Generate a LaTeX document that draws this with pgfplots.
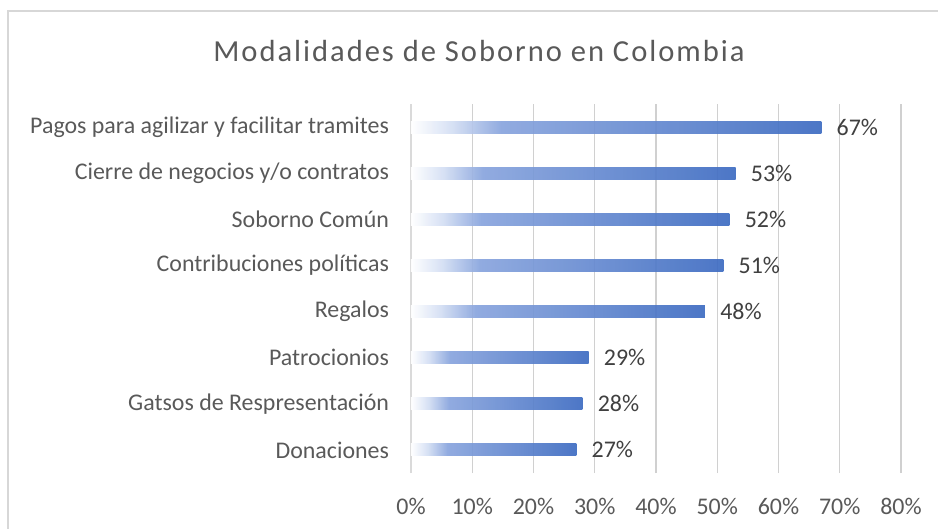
\documentclass[border=0pt]{standalone}
\usepackage{fontspec}
\setmainfont{Carlito}
\newfontfamily\titlefont[LetterSpace=6.5]{Carlito}
\usepackage{pgfplots}
\pgfplotsset{compat=1.18}

\definecolor{barblue}{HTML}{3D6BC1}
\definecolor{shA}{HTML}{D3DEF3}
\definecolor{shB}{HTML}{88A4DD}
\definecolor{gridgray}{HTML}{D0D0D0}
\definecolor{labgray}{HTML}{595959}
\definecolor{valgray}{HTML}{404040}

\pgfdeclarehorizontalshading{barshade}{100bp}{color(0bp)=(white); color(25bp)=(white); color(30bp)=(shA); color(36bp)=(shB); color(75bp)=(barblue); color(100bp)=(barblue)}

\pgfplotsset{onebar/.style={xbar, bar shift=0pt, bar width=9bp, draw=none, shading=barshade, fill opacity=0.92, text opacity=1}}

\begin{document}
\begin{tikzpicture}
% picture frame, in px*0.75bp, axis origin at (0,0)
\useasboundingbox (-308.25bp,-42bp) rectangle (395.25bp,354.75bp);
\draw[gridgray!85, line width=1.1bp] (-302.25bp,-60bp) -- (-302.25bp,346.5bp) -- (400bp,346.5bp);
\node[labgray, font=\titlefont\fontsize{23}{26}\selectfont] at (51bp,316.5bp) {Modalidades de Soborno en Colombia};

\begin{axis}[
  at={(0,0)}, anchor=south west,
  scale only axis,
  width=367.5bp, height=276.75bp,
  xmin=0, xmax=80,
  ymin=-0.5, ymax=7.5,
  xtick={0,10,...,80},
  xticklabel={\pgfmathprintnumber{\tick}\%},
  ytick={0,...,7},
  yticklabels={Donaciones, Gatsos de Respresentación, Patrocionios, Regalos, Contribuciones políticas, Soborno Común, Cierre de negocios y/o contratos, Pagos para agilizar y facilitar tramites},
  axis line style={draw=none},
  tick style={draw=none},
  xmajorgrids,
  grid style={gridgray, line width=0.9bp},
  extra x ticks={0},
  extra x tick labels={},
  extra x tick style={grid style={gridgray!80, line width=1.8bp}},
  ticklabel style={font=\fontsize{18}{21}\selectfont, text=labgray},
  /pgf/number format/assume math mode=true,
  xticklabel style={yshift=-15bp},
  yticklabel style={xshift=-13bp},
  point meta=x,
  nodes near coords={\pgfmathprintnumber{\pgfplotspointmeta}\%},
  nodes near coords align={horizontal},
  every node near coord/.append style={font=\fontsize{18}{21}\selectfont, text=valgray, xshift=8bp},
]
\addplot[onebar] coordinates {(27,0)};
\addplot[onebar] coordinates {(28,1)};
\addplot[onebar] coordinates {(29,2)};
\addplot[onebar] coordinates {(48,3)};
\addplot[onebar] coordinates {(51,4)};
\addplot[onebar] coordinates {(52,5)};
\addplot[onebar] coordinates {(53,6)};
\addplot[onebar] coordinates {(67,7)};
\end{axis}
\end{tikzpicture}
\end{document}
